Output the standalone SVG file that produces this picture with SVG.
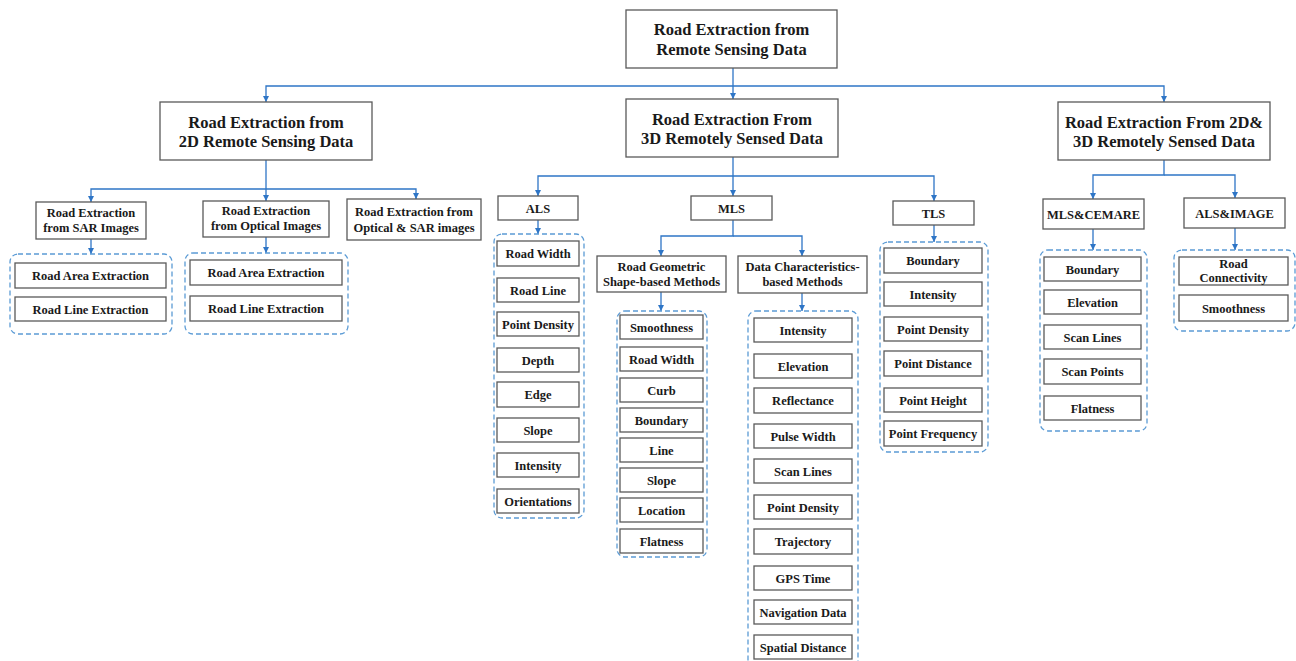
<svg xmlns="http://www.w3.org/2000/svg" width="1296" height="661" viewBox="0 0 1296 661">
<style>
.box{fill:#fff;stroke:#595959;stroke-width:1.3}
.grp{fill:none;stroke:#5b9bd5;stroke-width:1.3;stroke-dasharray:5 3}
.c{fill:none;stroke:#2e75c6;stroke-width:1.3}
text{font-family:"Liberation Serif","Times New Roman",serif;font-size:12.5px;font-weight:bold;text-anchor:middle;fill:#1a1a1a}
.h{font-size:16.5px}
</style>
<defs>
<marker id="ar" markerUnits="userSpaceOnUse" markerWidth="7" markerHeight="7" refX="6" refY="3.5" orient="auto"><path d="M0,0.5 L6,3.5 L0,6.5 z" fill="#2e75c6"/></marker>
</defs>
<rect width="1296" height="661" fill="#fff"/>
<g id="connectors" marker-end="url(#ar)">
<path class="c" d="M733,68 V99"/>
<path class="c" d="M733,86 H266 V102"/>
<path class="c" d="M733,86 H1164 V102"/>
<path class="c" d="M266,160 V201"/>
<path class="c" d="M266,189 H91 V202"/>
<path class="c" d="M266,189 H416 V199"/>
<path class="c" d="M91,239 V254"/>
<path class="c" d="M266,237 V253"/>
<path class="c" d="M733,157 V196"/>
<path class="c" d="M733,176 H538 V196"/>
<path class="c" d="M733,176 H934 V201"/>
<path class="c" d="M538,220 V234"/>
<path class="c" d="M733,220 V236 H661 V256"/>
<path class="c" d="M733,236 H802 V256"/>
<path class="c" d="M661,292 V311"/>
<path class="c" d="M802,293 V311"/>
<path class="c" d="M934,225 V242"/>
<path class="c" d="M1164,160 V175 H1093 V199"/>
<path class="c" d="M1164,175 H1235 V198"/>
<path class="c" d="M1093,229 V250"/>
<path class="c" d="M1235,228 V250"/>
</g>
<g id="root"><rect class="box" x="626" y="10" width="211" height="58"/><text class="h" x="731.5" y="35">Road Extraction from</text><text class="h" x="731.5" y="55">Remote Sensing Data</text></g>
<g id="n2d"><rect class="box" x="160" y="102" width="212" height="58"/><text class="h" x="266" y="128">Road Extraction from</text><text class="h" x="266" y="147">2D Remote Sensing Data</text></g>
<g id="n3d"><rect class="box" x="626" y="99" width="212" height="58"/><text class="h" x="732" y="125">Road Extraction From</text><text class="h" x="732" y="144">3D Remotely Sensed Data</text></g>
<g id="n23d"><rect class="box" x="1058" y="102" width="212" height="58"/><text class="h" x="1164" y="128">Road Extraction From 2D&amp;</text><text class="h" x="1164" y="147">3D Remotely Sensed Data</text></g>
<g id="sar"><rect class="box" x="36" y="202" width="110" height="37"/><text x="91" y="217">Road Extraction</text><text x="91" y="232">from SAR Images</text></g>
<g id="opt"><rect class="box" x="203" y="201" width="126" height="36"/><text x="266" y="215">Road Extraction</text><text x="266" y="230">from Optical Images</text></g>
<g id="optsar"><rect class="box" x="347" y="199" width="134" height="41"/><text x="414" y="216">Road Extraction from</text><text x="414" y="232">Optical &amp; SAR images</text></g>
<g id="sarGroup"><rect class="grp" x="10" y="254" width="162" height="80" rx="8"/>
<rect class="box" x="15" y="263" width="151" height="25"/><text x="90.5" y="280">Road Area Extraction</text>
<rect class="box" x="15" y="297" width="151" height="24"/><text x="90.5" y="314">Road Line Extraction</text></g>
<g id="optGroup"><rect class="grp" x="185" y="253" width="163" height="81" rx="8"/>
<rect class="box" x="190" y="260" width="152" height="25"/><text x="266" y="277">Road Area Extraction</text>
<rect class="box" x="190" y="296" width="152" height="25"/><text x="266" y="313">Road Line Extraction</text></g>
<g id="als"><rect class="box" x="498" y="196" width="80" height="24"/><text x="538" y="213">ALS</text></g>
<g id="mls"><rect class="box" x="691" y="196" width="81" height="24"/><text x="731.5" y="213">MLS</text></g>
<g id="tls"><rect class="box" x="893" y="201" width="81" height="24"/><text x="933.5" y="218">TLS</text></g>
<g id="alsGroup"><rect class="grp" x="494" y="234" width="90" height="284" rx="8"/>
<rect class="box" x="497" y="241" width="82" height="25"/><text x="538" y="258">Road Width</text>
<rect class="box" x="497" y="278" width="82" height="24"/><text x="538" y="294.5">Road Line</text>
<rect class="box" x="497" y="312" width="82" height="24"/><text x="538" y="328.5">Point Density</text>
<rect class="box" x="497" y="348" width="82" height="24"/><text x="538" y="364.5">Depth</text>
<rect class="box" x="497" y="382" width="82" height="25"/><text x="538" y="399">Edge</text>
<rect class="box" x="497" y="418" width="82" height="24"/><text x="538" y="434.5">Slope</text>
<rect class="box" x="497" y="453" width="82" height="24"/><text x="538" y="469.5">Intensity</text>
<rect class="box" x="497" y="489" width="82" height="24"/><text x="538" y="505.5">Orientations</text></g>
<g id="rg"><rect class="box" x="597" y="256" width="129" height="36"/><text x="661.5" y="271">Road Geometric</text><text x="661.5" y="286">Shape-based Methods</text></g>
<g id="dc"><rect class="box" x="738" y="256" width="129" height="37"/><text x="802.5" y="271">Data Characteristics-</text><text x="802.5" y="286">based Methods</text></g>
<g id="rgGroup"><rect class="grp" x="617" y="311" width="90" height="246" rx="8"/>
<rect class="box" x="620" y="315" width="83" height="24"/><text x="661.5" y="331.5">Smoothness</text>
<rect class="box" x="620" y="347" width="83" height="24"/><text x="661.5" y="363.5">Road Width</text>
<rect class="box" x="620" y="378" width="83" height="24"/><text x="661.5" y="394.5">Curb</text>
<rect class="box" x="620" y="408" width="83" height="24"/><text x="661.5" y="424.5">Boundary</text>
<rect class="box" x="620" y="438" width="83" height="24"/><text x="661.5" y="454.5">Line</text>
<rect class="box" x="620" y="468" width="83" height="24"/><text x="661.5" y="484.5">Slope</text>
<rect class="box" x="620" y="498" width="83" height="24"/><text x="661.5" y="514.5">Location</text>
<rect class="box" x="620" y="529" width="83" height="24"/><text x="661.5" y="545.5">Flatness</text></g>
<g id="dcGroup"><rect class="grp" x="748" y="311" width="110" height="370" rx="8"/>
<rect class="box" x="754" y="318" width="98" height="24"/><text x="803" y="334.5">Intensity</text>
<rect class="box" x="754" y="354" width="98" height="24"/><text x="803" y="370.5">Elevation</text>
<rect class="box" x="754" y="388" width="98" height="25"/><text x="803" y="405">Reflectance</text>
<rect class="box" x="754" y="424" width="98" height="24"/><text x="803" y="440.5">Pulse Width</text>
<rect class="box" x="754" y="459" width="98" height="24"/><text x="803" y="475.5">Scan Lines</text>
<rect class="box" x="754" y="495" width="98" height="24"/><text x="803" y="511.5">Point Density</text>
<rect class="box" x="754" y="529" width="98" height="25"/><text x="803" y="546">Trajectory</text>
<rect class="box" x="754" y="566" width="98" height="24"/><text x="803" y="582.5">GPS Time</text>
<rect class="box" x="754" y="600" width="98" height="24"/><text x="803" y="616.5">Navigation Data</text>
<rect class="box" x="754" y="635" width="98" height="24"/><text x="803" y="651.5">Spatial Distance</text></g>
<g id="tlsGroup"><rect class="grp" x="880" y="242" width="108" height="210" rx="8"/>
<rect class="box" x="884" y="248" width="98" height="25"/><text x="933" y="265">Boundary</text>
<rect class="box" x="884" y="282" width="98" height="24"/><text x="933" y="298.5">Intensity</text>
<rect class="box" x="884" y="317" width="98" height="24"/><text x="933" y="333.5">Point Density</text>
<rect class="box" x="884" y="351" width="98" height="25"/><text x="933" y="368">Point Distance</text>
<rect class="box" x="884" y="388" width="98" height="24"/><text x="933" y="404.5">Point Height</text>
<rect class="box" x="884" y="421" width="98" height="25"/><text x="933" y="438">Point Frequency</text></g>
<g id="mlscem"><rect class="box" x="1043" y="199" width="101" height="30"/><text x="1093.5" y="218.5">MLS&amp;CEMARE</text></g>
<g id="alsimg"><rect class="box" x="1184" y="198" width="101" height="30"/><text x="1234.5" y="217.5">ALS&amp;IMAGE</text></g>
<g id="mlscemGroup"><rect class="grp" x="1040" y="250" width="107" height="181" rx="8"/>
<rect class="box" x="1044" y="257" width="97" height="24"/><text x="1092.5" y="273.5">Boundary</text>
<rect class="box" x="1044" y="290" width="97" height="24"/><text x="1092.5" y="306.5">Elevation</text>
<rect class="box" x="1044" y="325" width="97" height="24"/><text x="1092.5" y="341.5">Scan Lines</text>
<rect class="box" x="1044" y="359" width="97" height="25"/><text x="1092.5" y="376">Scan Points</text>
<rect class="box" x="1044" y="396" width="97" height="24"/><text x="1092.5" y="412.5">Flatness</text></g>
<g id="alsimgGroup"><rect class="grp" x="1174" y="250" width="121" height="81" rx="8"/>
<rect class="box" x="1179" y="257" width="109" height="28"/><text x="1233.5" y="268">Road</text><text x="1233.5" y="282">Connectivity</text>
<rect class="box" x="1179" y="295" width="109" height="26"/><text x="1233.5" y="312.5">Smoothness</text></g>
</svg>
